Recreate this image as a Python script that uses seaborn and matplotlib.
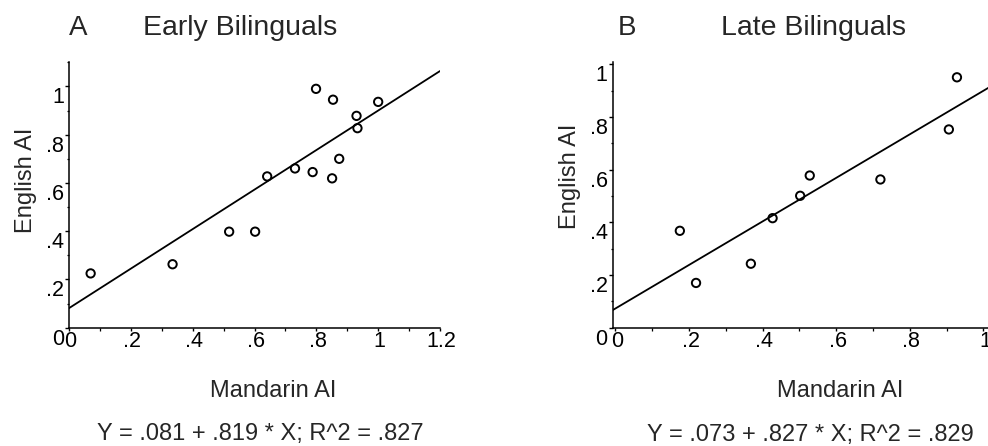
import matplotlib
matplotlib.use("Agg")
import matplotlib.pyplot as plt
import matplotlib.transforms as mtransforms
from matplotlib.ticker import FixedLocator, FixedFormatter, MultipleLocator
import seaborn as sns

# ---- data ----
early_mandarin = [0.07, 0.335, 0.518, 0.602, 0.641, 0.731, 0.788, 0.799, 0.851, 0.854, 0.874, 0.930, 0.933, 1.0]
early_english = [0.225, 0.263, 0.398, 0.398, 0.627, 0.660, 0.645, 0.990, 0.619, 0.945, 0.700, 0.878, 0.827, 0.936]
early_fit = [0.081, 0.819]  # intercept, slope

late_mandarin = [0.175, 0.219, 0.368, 0.427, 0.502, 0.528, 0.720, 0.906, 0.928]
late_english = [0.368, 0.170, 0.243, 0.416, 0.501, 0.578, 0.563, 0.753, 0.951]
late_fit = [0.073, 0.827]

panel_letters = ["A", "B"]
panel_titles = ["Early Bilinguals", "Late Bilinguals"]
equations = ["Y = .081 + .819 * X; R^2 = .827", "Y = .073 + .827 * X; R^2 = .829"]
xlabel = "Mandarin AI"
ylabel = "English AI"

x_ticks_A = [0, 0.2, 0.4, 0.6, 0.8, 1.0, 1.2]
x_ticklabels_A = ["0", ".2", ".4", ".6", ".8", "1", "1.2"]
x_ticks_B = [0, 0.2, 0.4, 0.6, 0.8, 1.0]
x_ticklabels_B = ["0", ".2", ".4", ".6", ".8", "1"]
y_ticks = [0, 0.2, 0.4, 0.6, 0.8, 1.0]
y_ticklabels = ["0", ".2", ".4", ".6", ".8", "1"]

# ---- style ----
sns.set_style("ticks")
plt.rcParams["font.family"] = ["Liberation Sans", "DejaVu Sans"]

W, H = 988, 446
fig = plt.figure(figsize=(W / 100, H / 100), dpi=100)


def px(x, y):
    return x / W, 1 - y / H


def make_axes(left_px, right_px, top_px, bottom_px):
    l, b = left_px / W, 1 - bottom_px / H
    w = (right_px - left_px) / W
    h = (bottom_px - top_px) / H
    return fig.add_axes([l, b, w, h])


axA = make_axes(69, 440, 62.3, 327.7)
axB = make_axes(612.5, 612.5 + 1.208 * 368, 62.3, 327.7)

panels = [
    (axA, early_mandarin, early_english, early_fit, (0, 1.2), (0, 1.1), x_ticks_A, x_ticklabels_A),
    (axB, late_mandarin, late_english, late_fit, (-0.008, 1.2), (0, 1.008), x_ticks_B, x_ticklabels_B),
]

for ax, xs, ys, fit, xlim, ylim, xt, xtl in panels:
    sns.scatterplot(x=xs, y=ys, ax=ax, marker="o", s=36,
                    facecolors="none", edgecolor="black", linewidth=1.4,
                    zorder=3)
    ax.axline((0, fit[0]), slope=fit[1], color="black", lw=1.3, zorder=2)
    ax.set_xlim(*xlim)
    ax.set_ylim(*ylim)
    ax.xaxis.set_major_locator(FixedLocator(xt))
    ax.xaxis.set_major_formatter(FixedFormatter(xtl))
    ax.yaxis.set_major_locator(FixedLocator(y_ticks))
    ax.yaxis.set_major_formatter(FixedFormatter(y_ticklabels))
    ax.xaxis.set_minor_locator(MultipleLocator(0.1))
    ax.yaxis.set_minor_locator(MultipleLocator(0.1))
    for side in ["top", "right"]:
        ax.spines[side].set_visible(False)
    for side in ["left", "bottom"]:
        ax.spines[side].set_linewidth(1.1)
        ax.spines[side].set_color("black")
    ax.tick_params(axis="x", which="major", direction="out", length=2.5,
                   width=1.0, pad=-0.4, labelsize=15.5, colors="black")
    ax.tick_params(axis="y", which="major", direction="out", length=3,
                   width=1.0, pad=0.6, labelsize=15.5, colors="black")
    ax.tick_params(which="minor", direction="out", length=1.8, width=0.9,
                   colors="black")
    ax.set_xlabel("")
    ax.set_ylabel("")
    ax.patch.set_alpha(0)
    # y tick labels hang below their ticks
    for t in ax.yaxis.get_major_ticks():
        t.label1.set_verticalalignment("top")
        t.label1.set_transform(t.label1.get_transform() +
                               mtransforms.ScaledTranslation(0, -1.0 / 100, fig.dpi_scale_trans))
    for t in ax.xaxis.get_major_ticks():
        t.label1.set_transform(t.label1.get_transform() +
                               mtransforms.ScaledTranslation(1.5 / 100, 0, fig.dpi_scale_trans))

# ---- texts ----
fig.text(*px(78, 35), panel_letters[0], fontsize=20, ha="center", va="baseline")
fig.text(*px(240, 35), panel_titles[0], fontsize=20.5, ha="center", va="baseline")
fig.text(*px(627, 35), panel_letters[1], fontsize=20, ha="center", va="baseline")
fig.text(*px(813, 35), panel_titles[1], fontsize=20.5, ha="center", va="baseline")

fig.text(*px(273, 396.7), xlabel, fontsize=17, ha="center", va="baseline")
fig.text(*px(840, 397), xlabel, fontsize=17, ha="center", va="baseline")

fig.text(*px(31.7, 180.8), ylabel, fontsize=17, ha="center", va="baseline",
         rotation=90, rotation_mode="anchor")
fig.text(*px(575.7, 176.7), ylabel, fontsize=17, ha="center", va="baseline",
         rotation=90, rotation_mode="anchor")

fig.text(*px(260, 440), equations[0], fontsize=17, ha="center", va="baseline")
fig.text(*px(810, 441.5), equations[1], fontsize=17, ha="center", va="baseline")

fig.savefig("out.png", dpi=100, facecolor="white")
